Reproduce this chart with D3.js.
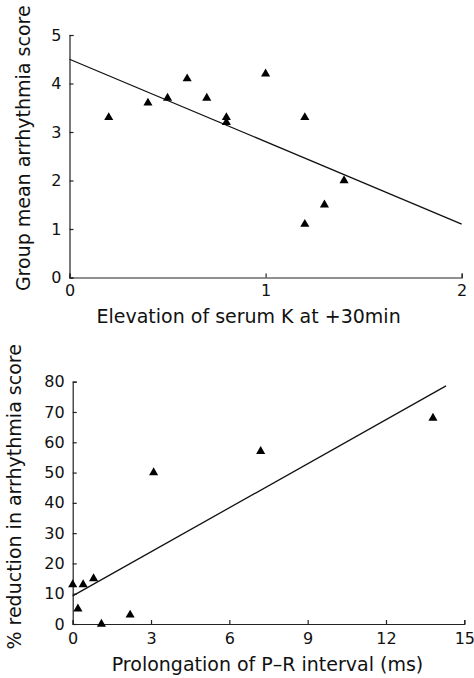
<!DOCTYPE html>
<html>
<head>
<meta charset="utf-8">
<script src="https://cdn.jsdelivr.net/npm/d3@7"></script>
<style>
  body { margin: 0; background: #fff; }
  svg { display: block; }
  .axis path, .axis line { stroke: #222; stroke-width: 1.2; }
  .axis text { font-family: "DejaVu Sans", sans-serif; font-size: 16px; fill: #111; }
  .title { font-family: "DejaVu Sans", sans-serif; font-size: 19px; fill: #111; }
</style>
</head>
<body>
<div id="chart"></div>
<script>
// Top panel: elevation of serum K vs group mean arrhythmia score
const serumK = [0.2, 0.4, 0.5, 0.6, 0.7, 0.8, 0.8, 1.0, 1.2, 1.2, 1.3, 1.4];
const arrhythmiaScore = [3.3, 3.6, 3.7, 4.1, 3.7, 3.3, 3.2, 4.2, 3.3, 1.1, 1.5, 2.0];
const topFit = [[0, 4.5], [2, 1.1]];
const topXTicks = [0, 1, 2];
const topYTicks = [0, 1, 2, 3, 4, 5];

// Bottom panel: prolongation of P-R interval vs % reduction in score
const prInterval = [0, 0.4, 0.8, 0.2, 1.1, 2.2, 3.1, 7.2, 13.8];
const pctReduction = [13, 13, 15, 5, 0, 3, 50, 57, 68];
const bottomFit = [[0, 9.3], [14.3, 78.6]];
const bottomXTicks = [0, 3, 6, 9, 12, 15];
const bottomYTicks = [0, 10, 20, 30, 40, 50, 60, 70, 80];

const svg = d3.select("#chart")
    .append("svg")
    .attr("width", 474)
    .attr("height", 678);

function panel(opts) {
    const x = d3.scaleLinear().domain(opts.xDomain).range(opts.xRange);
    const y = d3.scaleLinear().domain(opts.yDomain).range(opts.yRange);

    svg.append("g")
        .attr("class", "axis")
        .attr("transform", `translate(0,${opts.yRange[0]})`)
        .call(d3.axisBottom(x).tickValues(opts.xTicks).tickFormat(d3.format("d"))
            .tickSize(-4).tickPadding(opts.xPad))
        .call(g => g.select(".domain").attr("stroke-width", 1.4));

    svg.append("g")
        .attr("class", "axis")
        .attr("transform", `translate(${opts.xRange[0]},0)`)
        .call(d3.axisLeft(y).tickValues(opts.yTicks).tickFormat(d3.format("d"))
            .tickSize(-4).tickPadding(8));

    // Regression line
    svg.append("path")
        .datum(opts.fit)
        .attr("fill", "none")
        .attr("stroke", "#111")
        .attr("stroke-width", 1.3)
        .attr("d", d3.line().x(d => x(d[0])).y(d => y(d[1])));

    // Triangle markers
    svg.selectAll(null)
        .data(opts.xs)
        .enter()
        .append("path")
        .attr("d", d3.symbol(d3.symbolTriangle, 36))
        .attr("fill", "#000")
        .attr("transform", (d, i) => `translate(${x(d)},${y(opts.ys[i])})`);

    // Axis titles
    svg.append("text")
        .attr("class", "title")
        .attr("text-anchor", "middle")
        .attr("x", (opts.xRange[0] + opts.xRange[1]) / 2 + opts.xTitleShift)
        .attr("y", opts.yRange[0] + opts.xTitleGap)
        .text(opts.xTitle);

    svg.append("text")
        .attr("class", "title")
        .attr("text-anchor", "middle")
        .attr("transform", `translate(${opts.yTitleX},${(opts.yRange[0] + opts.yRange[1]) / 2 + opts.yTitleShift}) rotate(-90)`)
        .text(opts.yTitle);
}

panel({
    xs: serumK, ys: arrhythmiaScore, fit: topFit,
    xDomain: [0, 2], yDomain: [0, 5],
    xRange: [69.5, 461.7], yRange: [277.5, 35],
    xTicks: topXTicks, yTicks: topYTicks, xPad: 7,
    xTitle: "Elevation of serum K at +30min", xTitleShift: -17, xTitleGap: 45,
    yTitle: "Group mean arrhythmia score", yTitleX: 30, yTitleShift: -8
});

panel({
    xs: prInterval, ys: pctReduction, fit: bottomFit,
    xDomain: [0, 15], yDomain: [0, 80],
    xRange: [72.7, 464.3], yRange: [624, 381.7],
    xTicks: bottomXTicks, yTicks: bottomYTicks, xPad: 9,
    xTitle: "Prolongation of P\u2013R interval (ms)", xTitleShift: -1, xTitleGap: 47,
    yTitle: "% reduction in arrhythmia score", yTitleX: 21, yTitleShift: -6
});
</script>
</body>
</html>
